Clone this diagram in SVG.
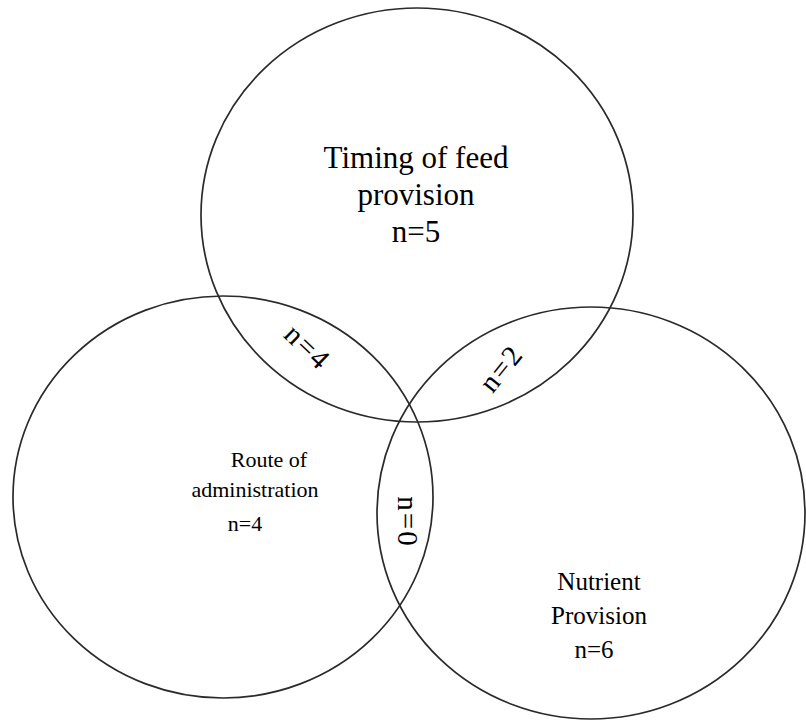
<svg xmlns="http://www.w3.org/2000/svg" width="806" height="722" viewBox="0 0 806 722">
<style>
.set{fill:none;stroke:#2a2a2a;stroke-width:1.7}
.lbl{font-family:"Liberation Serif","Times New Roman",serif;fill:#000;text-anchor:middle}
.big{font-size:31px}
.left{font-size:22px}
.right{font-size:25px}
.ov{font-size:29px;letter-spacing:2px;dominant-baseline:central}
</style>
<rect width="806" height="722" fill="#fff"/>
<g id="timing">
<ellipse class="set" cx="417" cy="215" rx="216" ry="207"/>
<text class="lbl big" x="416" y="168">Timing of feed</text>
<text class="lbl big" x="416" y="205">provision</text>
<text class="lbl big" x="416" y="242">n=5</text>
</g>
<g id="route">
<ellipse class="set" cx="223" cy="497" rx="210" ry="201"/>
<text class="lbl left" x="269" y="467">Route of</text>
<text class="lbl left" x="255" y="497">administration</text>
<text class="lbl left" x="245" y="531">n=4</text>
</g>
<g id="nutrient">
<ellipse class="set" cx="591" cy="513" rx="214" ry="206"/>
<text class="lbl right" x="599" y="590">Nutrient</text>
<text class="lbl right" x="599" y="624">Provision</text>
<text class="lbl right" x="594" y="658">n=6</text>
</g>
<g id="overlaps">
<text class="lbl ov" transform="translate(308 347) rotate(44)">n=4</text>
<text class="lbl ov" transform="translate(501 368) rotate(-51)">n=2</text>
<text class="lbl ov" transform="translate(408 522) rotate(90)">n=0</text>
</g>
</svg>
